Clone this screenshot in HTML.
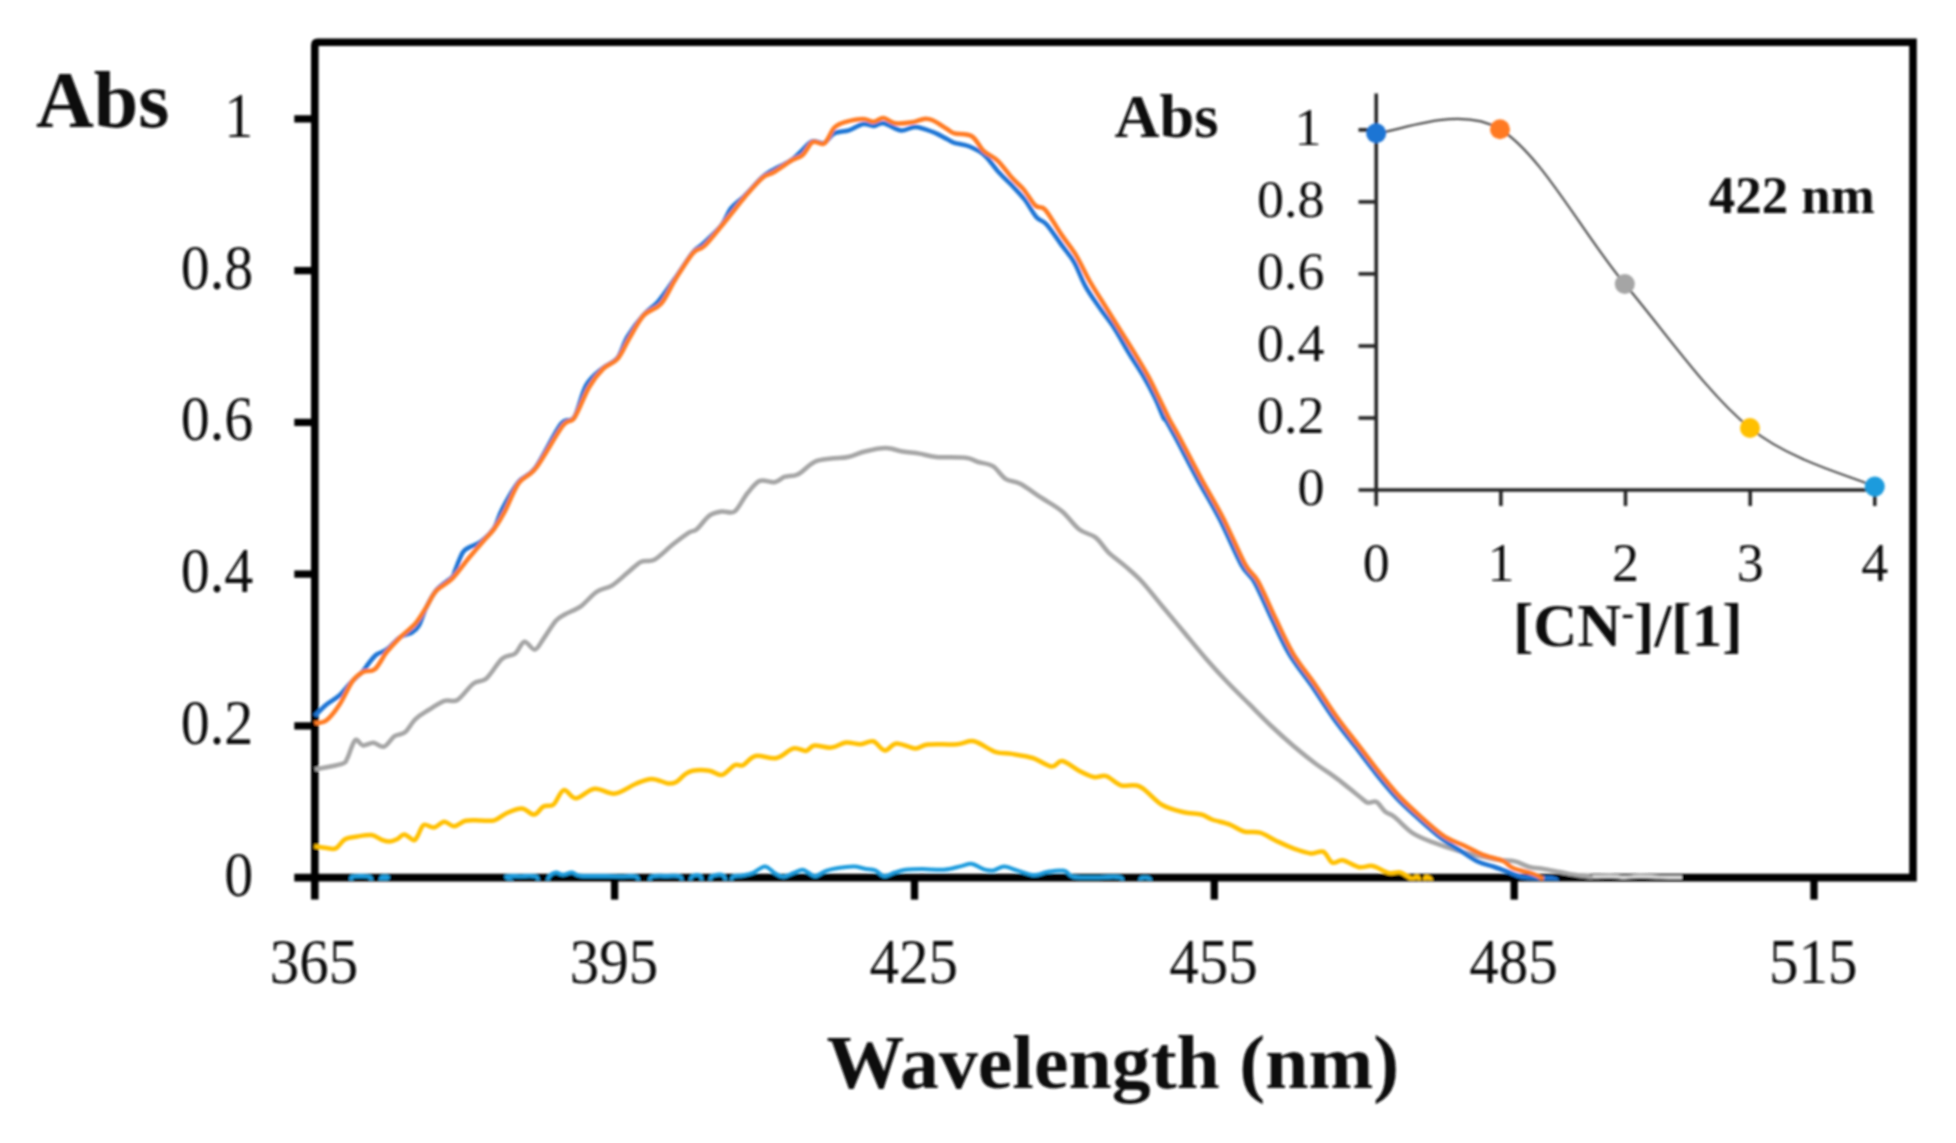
<!DOCTYPE html>
<html lang="en"><head><meta charset="utf-8"><title>UV-Vis spectra</title>
<style>html,body{margin:0;padding:0;background:#fff;}svg{display:block;}text{font-family:"Liberation Serif","DejaVu Serif",serif;fill:#111;}.b{font-weight:bold;}</style></head><body>
<svg width="1956" height="1143" viewBox="0 0 1956 1143">
<rect width="1956" height="1143" fill="#fff"/>
<filter id="soft" x="0" y="0" width="1956" height="1143" filterUnits="userSpaceOnUse"><feGaussianBlur stdDeviation="0.8"/></filter>
<g filter="url(#soft)">
<defs><clipPath id="plot"><rect x="311" y="40" width="1606" height="840.2"/></clipPath></defs>
<path d="M314.8,899.6 V45.3 Q314.8,42.3 317.8,42.3 H1913.0 V877.6 H294.3" fill="none" stroke="#000" stroke-width="7.6" stroke-linejoin="miter"/>
<line x1="294.3" x2="314.8" y1="725.9" y2="725.9" stroke="#000" stroke-width="7.3"/>
<line x1="294.3" x2="314.8" y1="574.1" y2="574.1" stroke="#000" stroke-width="7.3"/>
<line x1="294.3" x2="314.8" y1="422.4" y2="422.4" stroke="#000" stroke-width="7.3"/>
<line x1="294.3" x2="314.8" y1="270.6" y2="270.6" stroke="#000" stroke-width="7.3"/>
<line x1="294.3" x2="314.8" y1="118.9" y2="118.9" stroke="#000" stroke-width="7.3"/>
<line x1="614.6" x2="614.6" y1="877.6" y2="899.6" stroke="#000" stroke-width="7.3"/>
<line x1="914.5" x2="914.5" y1="877.6" y2="899.6" stroke="#000" stroke-width="7.3"/>
<line x1="1214.3" x2="1214.3" y1="877.6" y2="899.6" stroke="#000" stroke-width="7.3"/>
<line x1="1514.2" x2="1514.2" y1="877.6" y2="899.6" stroke="#000" stroke-width="7.3"/>
<line x1="1814.0" x2="1814.0" y1="877.6" y2="899.6" stroke="#000" stroke-width="7.3"/>
<g fill="none" stroke-linejoin="round" stroke-linecap="butt" clip-path="url(#plot)">
<path d="M314.8,884.0C320.5,884.0 342.8,885.2 349.0,884.0C355.2,882.8 348.6,878.2 352.0,877.0C355.4,875.8 366.2,875.8 369.5,877.0C372.8,878.2 370.4,882.8 372.0,884.0C373.6,885.2 377.4,885.1 379.0,884.0C380.6,882.9 380.3,878.3 381.8,877.2C383.3,876.1 386.6,876.1 388.0,877.2C389.4,878.3 370.7,882.9 390.0,884.0C409.3,885.1 484.6,885.2 504.0,884.0C523.4,882.8 503.8,877.9 506.5,876.6C509.2,875.3 515.1,876.2 520.0,876.2C524.9,876.2 532.8,875.2 536.0,876.5C539.2,877.8 537.3,882.8 539.0,884.0C540.7,885.2 544.2,885.3 546.0,884.0C547.8,882.7 547.8,878.1 549.5,876.2C551.2,874.3 553.8,872.8 556.0,872.6C558.2,872.4 560.3,874.8 563.0,874.8C565.7,874.8 569.2,872.4 572.0,872.6C574.8,872.8 575.3,875.2 580.0,875.8C584.7,876.4 593.3,875.9 600.0,876.0C606.7,876.1 614.0,876.3 620.0,876.4C626.0,876.5 632.7,875.3 636.0,876.6C639.3,877.9 638.0,882.8 640.0,884.0C642.0,885.2 646.0,885.2 648.0,884.0C650.0,882.8 648.7,877.9 652.0,876.6C655.3,875.3 663.3,876.0 668.0,876.0C672.7,876.0 677.5,875.1 680.0,876.4C682.5,877.7 681.5,882.7 683.0,884.0C684.5,885.3 687.5,885.2 689.0,884.0C690.5,882.8 690.2,877.9 692.0,876.5C693.8,875.1 698.2,874.4 700.0,875.6C701.8,876.9 701.5,882.6 703.0,884.0C704.5,885.4 707.5,885.3 709.0,884.0C710.5,882.7 709.7,877.8 712.0,876.3C714.3,874.8 720.4,873.9 722.9,875.2C725.4,876.5 725.8,882.5 727.0,884.0C728.2,885.5 729.0,885.2 730.0,884.0C731.0,882.8 731.0,878.0 733.0,876.6C735.0,875.2 739.0,876.1 742.3,875.5C745.6,874.9 749.2,874.4 753.0,872.9C756.8,871.4 761.2,866.5 764.8,866.5C768.4,866.5 771.5,871.2 774.5,872.9C777.5,874.6 779.8,876.8 783.0,876.8C786.2,876.8 790.6,874.1 793.8,872.9C797.0,871.7 799.9,869.7 802.4,869.7C804.9,869.7 806.6,871.8 808.8,872.9C810.9,874.0 812.4,876.6 815.3,876.2C818.2,875.9 822.4,872.1 826.0,870.8C829.6,869.5 832.1,868.9 836.8,868.2C841.4,867.5 849.2,866.4 853.9,866.5C858.5,866.6 861.1,868.1 864.7,868.7C868.3,869.4 872.2,869.1 875.4,870.4C878.6,871.6 880.8,875.9 884.0,876.2C887.2,876.6 891.1,873.6 894.7,872.5C898.3,871.4 900.9,870.3 905.5,869.7C910.1,869.1 916.2,869.1 922.6,869.1C929.0,869.1 937.7,870.2 944.1,869.7C950.5,869.2 956.6,867.1 961.3,866.1C965.9,865.1 968.1,863.3 972.0,863.9C975.9,864.5 981.3,868.6 984.9,869.7C988.5,870.8 990.3,870.9 993.5,870.4C996.7,869.9 1000.3,866.5 1004.2,866.5C1008.1,866.5 1012.1,869.0 1017.1,870.4C1022.1,871.8 1029.3,874.9 1034.3,875.1C1039.3,875.4 1042.2,872.6 1047.2,871.9C1052.2,871.2 1060.1,870.0 1064.4,870.8C1068.7,871.6 1068.4,875.7 1073.0,876.8C1077.6,877.9 1084.2,877.5 1092.0,877.6C1099.8,877.7 1114.3,876.1 1119.6,877.2C1124.9,878.3 1120.9,882.9 1124.0,884.0C1127.1,885.1 1135.2,885.0 1138.0,884.0C1140.8,883.0 1139.2,879.2 1141.0,878.3C1142.8,877.3 1147.2,877.3 1149.0,878.3C1150.8,879.2 1151.5,883.0 1152.0,884.0" stroke="#1E9BDD" stroke-width="4"/>
<path d="M314.3,846.3C316.4,846.6 323.0,847.6 326.6,848.0C330.2,848.4 332.7,849.9 335.8,848.4C338.9,846.9 341.4,841.2 345.0,839.2C348.6,837.2 352.9,837.2 357.3,836.5C361.7,835.8 367.5,834.6 371.6,835.1C375.7,835.6 378.7,838.7 381.8,839.8C384.9,840.9 387.4,841.7 390.0,841.6C392.6,841.5 394.7,840.4 397.1,839.2C399.5,838.0 401.6,834.3 404.3,834.5C407.0,834.7 411.3,839.9 413.5,840.2C415.7,840.5 415.9,838.7 417.6,836.1C419.3,833.5 421.0,826.3 423.7,824.9C426.4,823.5 430.5,828.0 433.9,827.5C437.3,827.0 440.8,822.0 444.2,821.8C447.6,821.6 450.8,826.5 454.4,826.3C458.0,826.1 461.3,821.8 465.6,820.8C469.9,819.8 475.2,820.5 480.0,820.4C484.8,820.3 489.9,821.6 494.3,820.4C498.7,819.2 501.9,815.2 506.5,813.2C511.1,811.2 517.3,808.3 521.9,808.5C526.5,808.7 530.6,814.9 534.2,814.6C537.8,814.3 540.2,808.2 543.4,806.5C546.6,804.8 550.2,807.1 553.6,804.4C557.0,801.7 560.0,791.1 563.8,790.1C567.5,789.1 571.0,798.5 576.1,798.3C581.2,798.1 588.0,789.5 594.5,788.7C601.0,787.9 608.1,794.4 614.9,793.6C621.7,792.8 629.3,786.5 635.4,784.0C641.5,781.5 646.2,779.0 651.7,778.9C657.2,778.8 664.0,782.9 668.1,783.4C672.2,783.9 673.6,783.3 676.3,781.9C679.0,780.5 681.8,776.7 684.5,774.8C687.2,772.9 688.5,771.4 692.6,770.7C696.8,770.0 704.5,770.0 709.4,770.7C714.3,771.4 717.8,775.8 722.0,774.9C726.2,774.0 731.1,766.8 734.6,765.2C738.1,763.6 739.5,766.7 743.0,765.2C746.5,763.7 750.0,757.2 755.6,756.0C761.2,754.8 770.3,759.3 776.6,758.0C782.9,756.7 788.5,749.6 793.4,748.4C798.3,747.2 802.5,751.4 806.0,750.9C809.5,750.4 810.2,746.0 814.4,745.5C818.6,745.0 826.0,748.1 831.2,747.6C836.5,747.1 841.0,743.1 845.9,742.5C850.8,741.9 856.0,744.4 860.6,744.2C865.2,744.0 869.2,740.2 873.2,741.3C877.2,742.3 881.0,750.1 884.9,750.5C888.8,750.9 891.2,743.8 896.3,743.4C901.3,743.0 910.0,748.2 915.2,748.4C920.5,748.6 920.8,745.3 927.8,744.6C934.8,743.9 949.5,744.8 957.2,744.2C964.9,743.7 967.7,740.0 974.0,741.3C980.3,742.6 988.7,749.7 995.0,751.8C1001.3,753.9 1005.5,752.9 1011.8,753.9C1018.1,754.9 1026.1,755.9 1032.8,758.0C1039.5,760.1 1046.8,766.0 1051.7,766.5C1056.6,767.0 1057.7,760.3 1062.2,761.0C1066.8,761.7 1073.8,768.0 1079.0,770.7C1084.2,773.4 1089.2,776.1 1093.7,777.0C1098.2,777.9 1101.8,774.7 1106.3,776.1C1110.8,777.5 1115.4,783.6 1121.0,785.4C1126.6,787.1 1133.1,783.4 1139.9,786.6C1146.7,789.8 1154.6,800.5 1161.9,804.8C1169.2,809.1 1177.2,810.7 1183.8,812.3C1190.4,813.9 1196.6,813.3 1201.3,814.5C1206.0,815.7 1207.2,817.8 1212.0,819.5C1216.8,821.2 1224.7,822.6 1230.0,824.6C1235.3,826.6 1238.9,830.1 1243.9,831.5C1248.9,832.9 1254.7,831.2 1260.0,832.7C1265.3,834.2 1270.2,838.0 1276.0,840.7C1281.8,843.4 1288.7,846.7 1294.5,848.8C1300.3,850.9 1305.8,852.9 1310.6,853.4C1315.4,853.9 1319.6,850.2 1323.2,851.7C1326.8,853.2 1329.1,861.2 1332.4,862.6C1335.7,864.0 1338.4,859.5 1342.8,860.3C1347.2,861.1 1353.9,866.2 1358.9,867.2C1363.9,868.2 1367.7,865.0 1372.7,866.0C1377.7,867.0 1384.2,871.8 1388.8,872.9C1393.4,874.0 1396.5,871.4 1400.3,872.4C1404.1,873.4 1408.9,877.9 1411.8,878.6C1414.7,879.3 1416.0,875.7 1417.5,876.6C1419.0,877.5 1419.9,882.8 1421.0,884.0C1422.1,885.2 1423.2,885.1 1424.0,884.0C1424.8,882.9 1424.6,878.3 1425.6,877.4C1426.6,876.5 1429.1,877.7 1430.2,878.8C1431.3,879.9 1431.7,883.1 1432.0,884.0" stroke="#FFC000" stroke-width="4.5"/>
<path d="M1576.3,875.0C1579.0,875.3 1587.1,876.6 1592.7,876.8C1598.3,877.0 1604.6,876.1 1610.0,876.2C1615.4,876.3 1620.0,877.3 1625.0,877.3C1630.0,877.3 1634.2,876.3 1640.0,876.3C1645.8,876.3 1653.0,876.9 1660.0,877.1C1667.0,877.3 1678.3,877.3 1682.0,877.3" stroke="#DCDCDC" stroke-width="3.4"/>
<path d="M314.8,769.4C319.3,768.5 336.6,765.6 342.0,763.8C347.4,762.0 345.0,762.4 347.2,758.5C349.4,754.6 352.5,742.4 355.1,740.2C357.7,738.0 359.9,745.0 363.0,745.4C366.1,745.8 370.0,742.6 373.5,742.8C377.0,743.0 380.5,747.8 384.0,746.7C387.5,745.6 391.0,738.6 394.5,736.2C398.0,733.8 401.5,735.1 405.0,732.3C408.5,729.5 411.6,722.9 415.5,719.2C419.4,715.5 423.8,713.1 428.6,710.0C433.4,706.9 439.6,702.5 444.4,700.8C449.2,699.1 452.7,702.9 457.5,700.0C462.3,697.1 468.4,687.3 473.2,683.7C478.0,680.1 481.6,682.6 486.4,678.5C491.2,674.4 497.3,663.0 502.1,658.8C506.9,654.6 511.5,656.4 515.2,653.5C518.9,650.6 521.1,642.4 524.4,641.7C527.7,641.1 531.6,650.2 534.9,649.6C538.2,649.0 540.6,642.6 544.1,637.8C547.6,633.0 552.4,624.6 555.9,620.7C559.4,616.8 561.0,616.6 565.1,614.2C569.2,611.8 575.5,610.0 580.8,606.3C586.0,602.6 591.4,595.4 596.6,591.9C601.9,588.4 607.0,588.6 612.3,585.3C617.5,582.0 623.3,576.1 628.1,572.2C632.9,568.3 636.8,563.8 641.2,561.7C645.6,559.6 649.0,562.6 654.3,559.8C659.5,556.9 667.0,549.1 672.7,544.6C678.4,540.1 684.5,535.4 688.5,532.8C692.5,530.2 693.3,532.1 696.8,529.2C700.3,526.4 705.2,518.7 709.4,515.7C713.6,512.8 717.8,512.2 722.0,511.5C726.2,510.8 730.4,514.5 734.6,511.5C738.8,508.5 743.0,498.6 747.2,493.5C751.4,488.4 755.2,482.8 759.8,480.9C764.3,479.0 770.3,482.9 774.5,482.2C778.7,481.5 781.1,478.0 785.0,476.7C788.9,475.4 792.7,477.1 797.6,474.6C802.5,472.2 808.8,464.7 814.4,462.0C820.0,459.3 825.6,459.4 831.2,458.6C836.8,457.8 842.4,458.2 848.0,457.0C853.6,455.8 858.5,453.0 864.8,451.5C871.1,450.0 879.5,448.1 885.8,448.1C892.1,448.1 897.0,450.6 902.6,451.5C908.2,452.4 913.8,452.7 919.4,453.6C925.0,454.5 928.5,456.3 936.2,457.0C943.9,457.7 958.6,457.0 965.6,457.8C972.6,458.6 973.7,460.6 978.2,462.0C982.8,463.4 988.4,463.4 992.9,466.2C997.4,469.0 1001.0,475.9 1005.5,478.8C1010.0,481.7 1014.2,480.7 1020.2,483.8C1026.2,486.9 1034.2,493.1 1041.2,497.7C1048.2,502.3 1055.9,506.2 1062.2,511.5C1068.5,516.8 1073.4,524.9 1079.0,529.2C1084.6,533.6 1090.9,533.8 1095.8,537.6C1100.7,541.5 1103.5,547.5 1108.4,552.3C1113.3,557.0 1119.6,561.2 1125.2,566.1C1130.8,571.0 1135.9,575.1 1142.0,581.7C1148.1,588.3 1154.9,597.3 1161.9,605.7C1168.9,614.1 1176.5,623.2 1183.8,632.0C1191.1,640.8 1198.3,649.8 1205.6,658.2C1212.9,666.6 1220.2,674.6 1227.5,682.3C1234.8,690.0 1242.1,696.9 1249.4,704.2C1256.7,711.5 1264.0,719.1 1271.3,726.0C1278.6,732.9 1285.9,739.5 1293.2,745.7C1300.5,751.9 1307.7,757.7 1315.0,763.2C1322.3,768.7 1329.7,773.1 1337.0,778.6C1344.3,784.1 1353.7,792.0 1358.8,796.0C1363.9,800.0 1364.7,801.6 1367.6,802.6C1370.5,803.6 1373.4,800.3 1376.3,801.8C1379.2,803.3 1382.0,808.9 1385.0,811.4C1388.0,813.9 1389.7,813.2 1394.3,816.8C1398.9,820.4 1406.2,828.9 1412.7,833.2C1419.2,837.5 1425.7,839.5 1433.2,842.4C1440.7,845.3 1450.2,848.4 1457.7,850.6C1465.2,852.8 1471.4,854.2 1478.2,855.7C1485.0,857.2 1492.5,858.8 1498.6,859.8C1504.7,860.8 1509.9,860.2 1515.0,861.4C1520.1,862.6 1524.5,865.7 1529.3,867.0C1534.1,868.3 1538.5,868.2 1543.6,869.0C1548.7,869.8 1554.5,871.0 1560.0,872.0C1565.5,873.0 1570.8,874.2 1576.3,875.0C1581.8,875.8 1590.0,876.7 1592.7,877.0" stroke="#A5A5A5" stroke-width="4.5"/>
<path d="M314.8,716.0C316.7,714.1 322.1,708.1 326.2,704.7C330.3,701.3 335.4,699.0 339.4,695.5C343.4,692.0 346.1,687.6 350.0,683.5C353.9,679.4 360.0,674.2 363.0,671.0C366.0,667.8 366.0,666.7 368.2,664.0C370.4,661.3 373.0,657.3 376.1,654.9C379.2,652.5 382.7,652.5 386.6,649.6C390.5,646.7 395.5,640.4 399.7,637.5C403.9,634.6 408.8,634.5 412.0,632.5C415.2,630.5 416.7,629.6 419.0,625.5C421.3,621.4 423.1,613.9 426.0,608.0C428.9,602.1 432.1,595.2 436.5,590.0C440.9,584.8 449.1,580.2 452.2,577.0C455.3,573.8 453.1,575.0 454.9,570.9C456.6,566.8 460.2,556.5 462.7,552.5C465.2,548.5 466.9,548.8 470.0,547.0C473.1,545.2 477.1,544.7 481.1,541.5C485.1,538.3 490.7,533.4 494.2,528.0C497.7,522.6 498.1,516.8 502.1,509.2C506.1,501.6 512.6,489.3 518.2,482.4C523.8,475.5 528.5,477.3 535.6,467.6C542.7,457.9 554.4,432.6 560.8,424.2C567.2,415.8 569.9,424.1 574.1,417.5C578.4,410.9 581.5,393.1 586.3,384.9C591.1,376.7 597.5,372.5 602.7,368.1C607.9,363.6 613.3,363.5 617.4,358.2C621.5,353.0 623.1,343.8 627.5,336.6C631.9,329.4 638.3,320.9 643.5,315.0C648.7,309.1 653.3,307.2 658.5,301.1C663.7,295.0 669.2,286.6 674.9,278.6C680.6,270.5 687.9,258.5 692.5,252.8C697.1,247.1 697.8,248.8 702.6,244.2C707.4,239.6 716.7,231.3 721.4,225.4C726.1,219.5 726.9,213.6 730.7,208.7C734.5,203.9 739.0,201.5 744.2,196.3C749.4,191.1 757.2,182.0 761.8,177.7C766.4,173.4 767.1,173.4 771.9,170.5C776.7,167.6 786.0,163.5 790.7,160.5C795.4,157.5 796.4,155.6 800.0,152.4C803.6,149.2 808.1,143.0 812.1,141.4C816.1,139.8 820.2,144.3 823.9,143.0C827.6,141.7 830.2,135.4 834.4,133.3C838.5,131.2 844.0,132.0 848.8,130.4C853.6,128.8 859.1,124.7 863.2,124.0C867.3,123.3 870.0,126.1 873.4,126.0C876.8,125.9 878.9,122.5 883.5,123.2C888.1,123.9 895.5,129.8 900.8,130.4C906.1,131.0 909.9,126.8 915.2,127.0C920.5,127.2 927.3,129.9 932.6,131.9C937.9,133.9 943.4,137.2 947.0,139.0C950.6,140.8 950.8,141.7 954.4,142.9C958.0,144.1 963.9,144.2 968.9,146.3C973.9,148.4 979.5,150.8 984.5,155.2C989.5,159.6 994.2,167.3 999.0,172.6C1003.8,177.9 1009.1,182.4 1013.4,187.0C1017.7,191.6 1021.1,194.9 1025.0,200.0C1028.8,205.1 1032.9,213.2 1036.5,217.3C1040.1,221.4 1042.3,219.7 1046.6,224.5C1050.9,229.3 1057.9,239.9 1062.5,246.2C1067.1,252.5 1070.2,255.4 1074.1,262.1C1078.0,268.8 1081.3,278.9 1085.6,286.6C1089.9,294.3 1095.2,301.3 1100.0,308.3C1104.8,315.3 1109.7,321.0 1114.5,328.5C1119.3,336.0 1124.1,345.2 1128.9,353.1C1133.7,361.1 1139.1,368.8 1143.4,376.2C1147.7,383.6 1151.5,390.8 1154.9,397.8C1158.3,404.8 1161.9,414.5 1163.6,418.0C1165.3,421.5 1163.2,415.7 1165.2,419.0C1167.2,422.3 1170.4,427.9 1175.8,438.0C1181.2,448.1 1190.4,466.1 1197.7,479.6C1205.0,493.1 1212.3,504.8 1219.6,519.0C1226.9,533.2 1235.6,554.3 1241.4,564.9C1247.2,575.5 1249.5,573.3 1254.6,582.4C1259.7,591.5 1266.3,607.6 1272.1,619.6C1277.9,631.6 1283.1,643.6 1289.6,654.6C1296.2,665.5 1304.1,674.7 1311.4,685.3C1318.7,695.9 1326.1,707.9 1333.4,718.1C1340.7,728.3 1347.9,737.0 1355.2,746.5C1362.5,756.0 1370.2,766.4 1377.1,775.0C1384.0,783.6 1390.1,791.1 1396.8,798.2C1403.5,805.3 1409.9,810.9 1417.3,817.6C1424.7,824.3 1433.9,832.6 1441.3,838.3C1448.7,844.0 1455.6,847.7 1461.8,851.6C1468.0,855.5 1472.8,859.2 1478.2,861.8C1483.7,864.4 1489.0,865.1 1494.5,867.0C1500.0,868.9 1506.2,871.3 1510.9,873.0C1515.7,874.7 1515.8,876.1 1523.0,877.0C1530.2,877.9 1548.3,877.4 1553.8,878.6C1559.3,879.8 1555.6,883.1 1556.0,884.0" stroke="#1F74D4" stroke-width="4.5"/>
<path d="M314.4,723.1C316.4,722.7 322.0,723.6 326.2,720.5C330.4,717.4 335.0,711.3 339.4,704.7C343.8,698.1 348.6,686.6 352.5,681.1C356.4,675.6 359.3,673.9 363.0,671.9C366.7,669.9 370.9,672.6 374.8,669.3C378.7,666.0 382.5,657.5 386.6,652.2C390.8,647.0 394.9,642.6 399.7,637.8C404.5,633.0 411.1,628.4 415.5,623.4C419.9,618.4 422.5,613.1 426.0,607.6C429.5,602.1 432.1,595.4 436.5,590.6C440.9,585.8 446.9,584.0 452.2,578.7C457.4,573.4 462.8,565.3 468.0,559.0C473.2,552.7 479.3,545.7 483.7,540.7C488.1,535.7 490.7,533.7 494.2,528.9C497.7,524.1 500.6,519.5 504.7,511.8C508.8,504.2 513.6,490.3 518.8,483.0C524.0,475.7 528.7,477.5 536.0,468.0C543.3,458.5 556.2,434.4 562.6,426.0C569.0,417.6 570.0,424.2 574.4,417.8C578.8,411.4 584.1,395.7 588.9,387.5C593.7,379.3 598.5,373.5 603.3,368.7C608.1,363.9 613.5,363.7 617.8,358.6C622.1,353.6 625.0,345.6 629.3,338.4C633.6,331.2 638.5,321.1 643.8,315.3C649.1,309.5 655.8,309.7 661.1,303.7C666.4,297.7 670.2,287.6 675.5,279.2C680.8,270.8 688.1,258.7 692.9,253.2C697.7,247.7 699.6,250.6 704.4,246.0C709.2,241.4 716.9,231.5 721.7,225.7C726.5,219.9 729.4,216.1 733.3,211.3C737.1,206.5 740.0,202.4 744.8,196.9C749.6,191.4 757.4,182.2 762.2,178.1C767.0,174.0 768.9,175.2 773.7,172.3C778.5,169.4 786.2,163.7 791.0,160.8C795.8,157.9 799.0,158.1 802.6,155.0C806.2,151.9 809.1,143.9 812.7,142.0C816.3,140.1 820.7,145.8 824.3,143.4C827.9,141.0 830.8,131.1 834.4,127.5C838.0,123.9 841.1,123.2 845.9,121.8C850.7,120.4 858.6,118.9 863.2,118.9C867.8,118.9 870.0,122.0 873.4,121.8C876.8,121.6 879.9,117.8 883.5,118.0C887.1,118.2 890.2,122.5 895.0,123.2C899.8,123.9 907.5,123.0 912.3,122.3C917.1,121.6 920.5,119.2 923.9,118.9C927.3,118.6 928.8,118.6 932.6,120.3C936.5,122.0 943.4,126.8 947.0,129.0C950.6,131.2 950.3,132.1 954.4,133.3C958.5,134.5 967.0,133.3 971.8,136.2C976.6,139.1 979.0,146.5 983.3,150.6C987.6,154.7 993.0,156.2 997.8,160.8C1002.6,165.4 1007.9,173.3 1012.2,178.1C1016.5,182.9 1019.9,185.0 1023.8,189.6C1027.6,194.2 1031.7,202.1 1035.3,205.5C1038.9,208.9 1041.1,205.1 1045.4,209.9C1049.7,214.7 1056.2,227.0 1061.3,234.4C1066.3,241.8 1070.9,246.7 1075.7,254.6C1080.5,262.5 1085.4,273.6 1090.2,282.0C1095.0,290.4 1099.8,297.5 1104.6,305.2C1109.4,312.9 1114.2,320.6 1119.0,328.3C1123.8,336.0 1128.7,343.5 1133.5,351.4C1138.3,359.3 1143.7,368.0 1148.0,375.9C1152.3,383.8 1156.0,391.9 1159.5,399.0C1163.0,406.1 1165.5,411.8 1168.8,418.2C1172.1,424.6 1174.0,427.1 1179.4,437.2C1184.8,447.3 1194.0,465.3 1201.3,478.8C1208.6,492.3 1215.9,504.0 1223.2,518.2C1230.5,532.4 1239.2,553.5 1245.0,564.1C1250.8,574.7 1253.1,572.5 1258.2,581.6C1263.3,590.7 1269.9,606.8 1275.7,618.8C1281.5,630.8 1286.7,642.8 1293.2,653.8C1299.8,664.8 1307.7,673.9 1315.0,684.5C1322.3,695.1 1329.7,707.1 1337.0,717.3C1344.3,727.5 1351.5,736.2 1358.8,745.7C1366.1,755.2 1373.8,765.6 1380.7,774.2C1387.6,782.8 1393.7,790.3 1400.4,797.4C1407.1,804.5 1414.1,810.7 1420.9,816.8C1427.7,822.9 1436.2,830.3 1441.3,834.2C1446.4,838.1 1447.5,838.2 1451.6,840.3C1455.7,842.3 1460.8,844.1 1465.9,846.5C1471.0,848.9 1476.1,852.2 1482.2,854.6C1488.3,857.0 1497.6,858.6 1502.7,860.8C1507.8,863.0 1507.8,865.8 1512.9,868.0C1518.0,870.2 1528.3,872.1 1533.4,874.0C1538.5,875.9 1541.9,878.3 1543.6,879.2" stroke="#FF7A22" stroke-width="4.5"/>
</g>
<text transform="translate(253.2,895.6) scale(1,1.1)" font-size="58" text-anchor="end">0</text>
<text transform="translate(253.2,743.9) scale(1,1.1)" font-size="58" text-anchor="end">0.2</text>
<text transform="translate(253.2,592.1) scale(1,1.1)" font-size="58" text-anchor="end">0.4</text>
<text transform="translate(253.2,440.4) scale(1,1.1)" font-size="58" text-anchor="end">0.6</text>
<text transform="translate(253.2,288.6) scale(1,1.1)" font-size="58" text-anchor="end">0.8</text>
<text transform="translate(253.2,136.9) scale(1,1.1)" font-size="58" text-anchor="end">1</text>
<text transform="translate(314.0,982.8) scale(1,1.08)" font-size="59" text-anchor="middle">365</text>
<text transform="translate(613.9,982.8) scale(1,1.08)" font-size="59" text-anchor="middle">395</text>
<text transform="translate(913.7,982.8) scale(1,1.08)" font-size="59" text-anchor="middle">425</text>
<text transform="translate(1213.5,982.8) scale(1,1.08)" font-size="59" text-anchor="middle">455</text>
<text transform="translate(1513.4,982.8) scale(1,1.08)" font-size="59" text-anchor="middle">485</text>
<text transform="translate(1813.2,982.8) scale(1,1.08)" font-size="59" text-anchor="middle">515</text>
<text transform="translate(36,127.2) scale(1,1.0)" font-size="80" text-anchor="start" class="b" textLength="133.5" lengthAdjust="spacingAndGlyphs">Abs</text>
<text transform="translate(826.5,1088) scale(1,1.0)" font-size="77" text-anchor="start" class="b" textLength="572.7" lengthAdjust="spacingAndGlyphs">Wavelength (nm)</text>
<path d="M1376.2,93.6 V506 M1358.5,490.0 H1877" fill="none" stroke="#262626" stroke-width="3.6"/>
<line x1="1358.5" x2="1376.2" y1="418.0" y2="418.0" stroke="#262626" stroke-width="3.6"/>
<line x1="1358.5" x2="1376.2" y1="346.0" y2="346.0" stroke="#262626" stroke-width="3.6"/>
<line x1="1358.5" x2="1376.2" y1="273.9" y2="273.9" stroke="#262626" stroke-width="3.6"/>
<line x1="1358.5" x2="1376.2" y1="201.9" y2="201.9" stroke="#262626" stroke-width="3.6"/>
<line x1="1358.5" x2="1376.2" y1="129.9" y2="129.9" stroke="#262626" stroke-width="3.6"/>
<line x1="1500.9" x2="1500.9" y1="490.0" y2="506" stroke="#262626" stroke-width="3.6"/>
<line x1="1625.5" x2="1625.5" y1="490.0" y2="506" stroke="#262626" stroke-width="3.6"/>
<line x1="1750.2" x2="1750.2" y1="490.0" y2="506" stroke="#262626" stroke-width="3.6"/>
<line x1="1874.8" x2="1874.8" y1="490.0" y2="506" stroke="#262626" stroke-width="3.6"/>
<path d="M1376.2,133.2 C1396.8,132.5 1458.6,104.1 1500.0,129.2 C1541.4,154.3 1583.1,234.2 1624.8,284.0 C1666.5,333.8 1708.3,394.2 1750,428.0 C1791.7,461.8 1854.0,476.8 1874.8,486.6" fill="none" stroke="#505050" stroke-width="2.2"/>
<circle cx="1376.2" cy="133.2" r="10" fill="#1F74D4"/>
<circle cx="1500.0" cy="129.2" r="10" fill="#FF7A22"/>
<circle cx="1624.8" cy="284.0" r="10" fill="#A5A5A5"/>
<circle cx="1750" cy="428.0" r="10" fill="#FFC000"/>
<circle cx="1874.8" cy="486.6" r="10" fill="#1E9BDD"/>
<text transform="translate(1324.5,505.0) scale(1,0.98)" font-size="54" text-anchor="end">0</text>
<text transform="translate(1324.5,433.0) scale(1,0.98)" font-size="54" text-anchor="end">0.2</text>
<text transform="translate(1324.5,361.0) scale(1,0.98)" font-size="54" text-anchor="end">0.4</text>
<text transform="translate(1324.5,288.9) scale(1,0.98)" font-size="54" text-anchor="end">0.6</text>
<text transform="translate(1324.5,216.9) scale(1,0.98)" font-size="54" text-anchor="end">0.8</text>
<text transform="translate(1321.5,144.9) scale(1,0.98)" font-size="54" text-anchor="end">1</text>
<text transform="translate(1376.2,580.8) scale(1,1.0)" font-size="54" text-anchor="middle">0</text>
<text transform="translate(1500.9,580.8) scale(1,1.0)" font-size="54" text-anchor="middle">1</text>
<text transform="translate(1625.5,580.8) scale(1,1.0)" font-size="54" text-anchor="middle">2</text>
<text transform="translate(1750.2,580.8) scale(1,1.0)" font-size="54" text-anchor="middle">3</text>
<text transform="translate(1874.8,580.8) scale(1,1.0)" font-size="54" text-anchor="middle">4</text>
<text transform="translate(1114.5,137) scale(1,1.0)" font-size="62" text-anchor="start" class="b" textLength="104" lengthAdjust="spacingAndGlyphs">Abs</text>
<text transform="translate(1708.8,213.3) scale(1,1.11)" font-size="48" text-anchor="start" class="b" textLength="166" lengthAdjust="spacingAndGlyphs">422 nm</text>
<text transform="translate(1513,646)" font-size="61" class="b">[CN<tspan dy="-21" font-size="38">-</tspan><tspan dy="21">]/[1]</tspan></text>
</g>
</svg></body></html>
